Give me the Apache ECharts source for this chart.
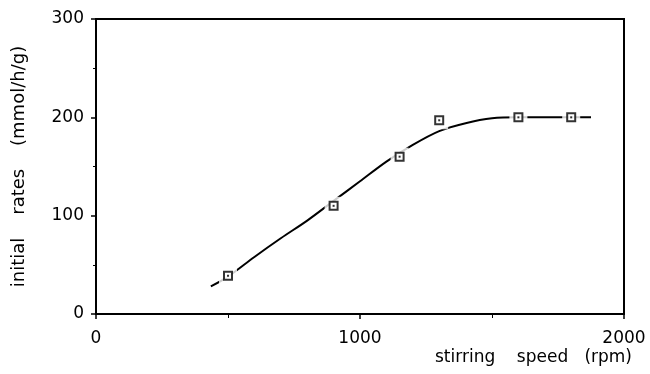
<!DOCTYPE html>
<html>
<head>
<meta charset="utf-8">
<script src="https://cdn.jsdelivr.net/npm/echarts@6/dist/echarts.min.js"></script>
<style>
  html, body { margin: 0; padding: 0; background: #fff; }
  #chart { width: 650px; height: 374px; }
</style>
</head>
<body>
<div id="chart"></div>
<script>
  // measured points (stirring speed, initial rate)
  var speeds = [500, 900, 1150, 1300, 1600, 1800];
  var rates = [39, 110, 160, 197, 200, 200];

  // fitted curve
  var curveX = [435, 500, 600, 700, 800, 900, 1000, 1100, 1200, 1300, 1400, 1500, 1600, 1700, 1800, 1875];
  var curveY = [28, 38, 58, 77, 95, 115, 135, 155, 172, 186, 194, 199, 200, 200, 200, 200];

  var xTicks = [0, 1000, 2000];
  var yTicks = [0, 100, 200, 300];

  var font = 'DejaVu Sans, Arial, sans-serif';

  var points = speeds.map(function (s, i) { return [s, rates[i]]; });
  var curve = curveX.map(function (x, i) { return [x, curveY[i]]; });

  var chart = echarts.init(document.getElementById('chart'));
  chart.setOption({
    animation: false,
    backgroundColor: '#fff',
    grid: {
      left: 96, right: 26, top: 19, bottom: 60,
      show: true, borderColor: '#000', borderWidth: 2
    },
    xAxis: {
      type: 'value',
      min: xTicks[0], max: xTicks[xTicks.length - 1], interval: 1000,
      name: 'stirring    speed   (rpm)',
      nameLocation: 'end',
      nameGap: 0,
      nameTextStyle: {
        fontFamily: font, fontSize: 17, color: '#000',
        align: 'right', verticalAlign: 'top', padding: [35, -8, 0, 0]
      },
      axisLine: { show: true, lineStyle: { color: '#000', width: 2 } },
      axisTick: { show: true, inside: false, length: 5, lineStyle: { color: '#000', width: 1.5 } },
      minorTick: { show: true, splitNumber: 2, length: 4, lineStyle: { color: '#000', width: 1 } },
      axisLabel: {
        fontFamily: font, fontSize: 17, color: '#000', margin: 16,
        formatter: function (v) { return String(v); }
      },
      splitLine: { show: false }
    },
    yAxis: {
      type: 'value',
      min: yTicks[0], max: yTicks[yTicks.length - 1], interval: 100,
      name: 'initial    rates    (mmol/h/g)',
      nameLocation: 'middle',
      nameRotate: 90,
      nameGap: 68,
      nameTextStyle: { fontFamily: font, fontSize: 18, color: '#000' },
      axisLine: { show: true, lineStyle: { color: '#000', width: 2 } },
      axisTick: { show: true, inside: false, length: 5, lineStyle: { color: '#000', width: 1.5 } },
      minorTick: { show: true, splitNumber: 2, length: 3, lineStyle: { color: '#000', width: 1 } },
      axisLabel: { fontFamily: font, fontSize: 17, color: '#000', margin: 12 },
      splitLine: { show: false }
    },
    series: [
      {
        type: 'line',
        data: curve,
        smooth: 0.3,
        showSymbol: false,
        lineStyle: { color: '#000', width: 2 },
        z: 1
      },
      {
        // white halo leaves the gaps round the markers
        type: 'scatter',
        data: points,
        symbol: 'rect',
        symbolSize: 18,
        itemStyle: { color: '#fff' },
        z: 2
      },
      {
        type: 'scatter',
        data: points,
        symbol: 'rect',
        symbolSize: 8,
        itemStyle: { color: '#fff', borderColor: '#000', borderWidth: 2 },
        z: 3
      },
      {
        type: 'scatter',
        data: points,
        symbol: 'rect',
        symbolSize: 2,
        itemStyle: { color: '#000' },
        z: 4
      }
    ]
  });
</script>
</body>
</html>
